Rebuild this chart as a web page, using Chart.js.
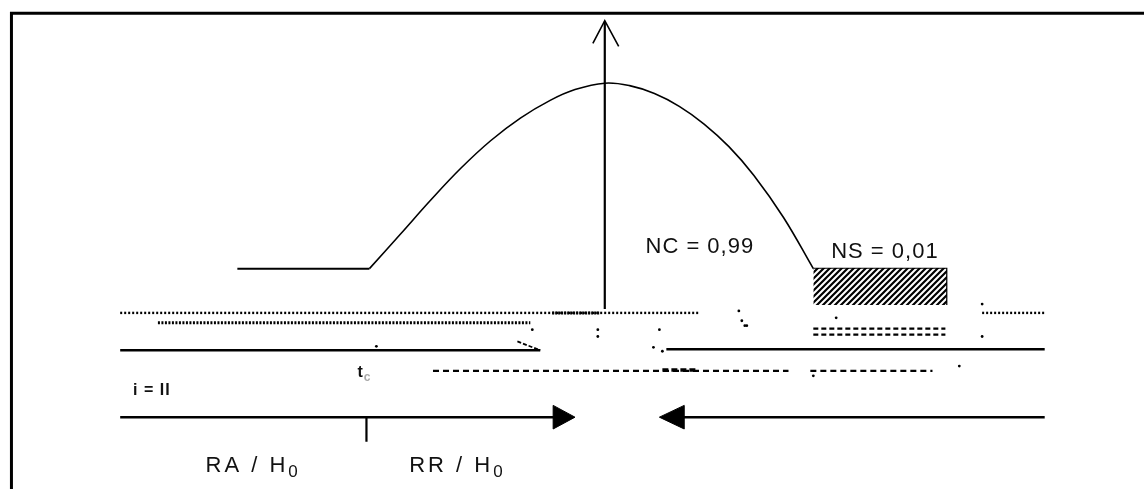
<!DOCTYPE html>
<html>
<head>
<meta charset="utf-8">
<script src="https://cdn.jsdelivr.net/npm/chart.js@4.4.1/dist/chart.umd.min.js"></script>
<style>
  html, body { margin: 0; padding: 0; background: #fff; }
  #wrap { width: 1148px; height: 493px; }
</style>
</head>
<body>
<div id="wrap"><canvas id="diagram"></canvas></div>
<script>
// drawing units = the 1148 x 493 sheet, y going down

// frame of the figure
const frameX = [7.5, 7.5, 1148];
const frameY = [493, 9.5, 9.5];

// density curve (flat tail, then the bell)
const tailX = [235, 368];
const tailY = [269, 269];
const bellX = [368, 400, 430, 460, 490, 520, 550, 575, 605, 630, 655, 680, 705, 730, 755, 785, 815];
const bellY = [269, 233, 199, 167, 139, 116, 98, 87, 80.5, 83, 91, 104, 122, 145, 174, 217, 269];

// vertical axis with its arrow tip
const axisX = [605, 605];
const axisY = [310, 18];
const tipX = [593, 605, 619];
const tipY = [40, 17, 43];

// NS region (hatched)
const nsX = [815, 949];
const nsTop = [269, 269];
const nsBottom = [306, 306];
const nsEdgeX = [815, 949, 949];
const nsEdgeY = [269, 269, 306];

// scanned guide lines
const dot1X = [117, 700], dot1Y = [314, 314];
const dot1bX = [552, 600], dot1bY = [314, 314];
const dot2X = [155, 530], dot2Y = [324, 324];
const dot3X = [985, 1048], dot3Y = [314, 314];
const solidLX = [117, 540], solidLY = [352, 352];
const slashX = [517, 540], slashY = [343, 352];
const solidRX = [667, 1048], solidRY = [351, 351];
const dashNS1X = [815, 948], dashNS1Y = [330, 330];
const dashNS2X = [815, 948], dashNS2Y = [336, 336];
const dashB1X = [432, 790], dashB1Y = [373, 373];
const dashB1bX = [663, 697], dashB1bY = [372, 372];
const dashB2X = [812, 935], dashB2Y = [373, 373];
const specksX = [740, 743, 746, 660, 654, 663, 598, 598, 375, 532, 985, 985, 962, 815, 838, 748];
const specksY = [312, 322, 327, 331, 349, 353, 331, 338, 348, 331, 305, 338, 368, 378, 319, 327];

// decision arrows
const arrowRX = [117, 556], arrowRY = [420, 420];
const headRX = [553, 575, 553, 553], headRY = [408, 420, 432, 408];
const arrowLX = [683, 1048], arrowLY = [420, 420];
const headLX = [685, 660, 685, 685], headLY = [408, 420, 432, 408];
const tickX = [365, 365], tickY = [420, 445];

// texts
const notes = [
    { text: 'NC = 0,99', x: 646, y: 247 },
    { text: 'NS = 0,01', x: 833, y: 252 },
    { text: 'RA / H', sub: '0', x: 203, y: 470 },
    { text: 'RR / H', sub: '0', x: 408, y: 470 },
    { text: 'i = II', x: 130, y: 393, small: true },
    { text: 't', sub: 'c', x: 356, y: 375, small: true }
];

function pts(xs, ys) {
    return xs.map((x, i) => ({ x: x, y: ys[i] }));
}

function hatch() {
    const c = document.createElement('canvas');
    c.width = 6; c.height = 6;
    const g = c.getContext('2d');
    g.fillStyle = '#fff';
    g.fillRect(0, 0, 6, 6);
    g.strokeStyle = '#000';
    g.lineWidth = 2.2;
    g.beginPath();
    g.moveTo(-1, 7); g.lineTo(7, -1);
    g.moveTo(-4, 4); g.lineTo(4, -4);
    g.moveTo(2, 10); g.lineTo(10, 2);
    g.stroke();
    return g.createPattern(c, 'repeat');
}

function line(xs, ys, width, dash, extra) {
    return Object.assign({
        data: pts(xs, ys),
        showLine: true,
        borderColor: '#000',
        borderWidth: width,
        borderDash: dash || [],
        pointRadius: 0,
        fill: false,
        clip: false
    }, extra || {});
}

const notesPlugin = {
    id: 'notes',
    afterDatasetsDraw(chart) {
        const ctx = chart.ctx;
        const sx = chart.scales.x, sy = chart.scales.y;
        ctx.save();
        ctx.textBaseline = 'middle';
        notes.forEach(n => {
            const px = sx.getPixelForValue(n.x);
            const py = sy.getPixelForValue(n.y);
            ctx.font = n.small ? 'bold 16px "Liberation Sans", Arial, sans-serif' : '22px "Liberation Sans", Arial, sans-serif';
            ctx.letterSpacing = n.sub && !n.small ? '3px' : '1px';
            ctx.fillStyle = '#111';
            ctx.fillText(n.text, px, py);
            if (n.sub) {
                const w = ctx.measureText(n.text).width;
                ctx.font = n.small ? 'bold 12px "Liberation Sans", Arial, sans-serif' : '17px "Liberation Sans", Arial, sans-serif';
                ctx.fillStyle = n.small ? '#aaa' : '#111';
                ctx.fillText(n.sub, px + w, py + (n.small ? 5 : 6));
            }
        });
        ctx.restore();
    }
};

const ctx = document.getElementById('diagram').getContext('2d');

const diagram = new Chart(ctx, {
    type: 'scatter',
    data: {
        datasets: [
            line(frameX, frameY, 3),
            // hatched box: top edge filled down to the bottom edge
            line(nsX, nsTop, 0, null, { fill: '+1', backgroundColor: hatch(), borderWidth: 0 }),
            line(nsX, nsBottom, 0),
            line(nsEdgeX, nsEdgeY, 2),
            line(tailX, tailY, 2),
            line(bellX, bellY, 1.6, null, { tension: 0.4 }),
            line(axisX, axisY, 2.2),
            line(tipX, tipY, 1.6),
            line(dot1X, dot1Y, 2.4, [2, 2]),
            line(dot1bX, dot1bY, 3, [2, 1]),
            line(dot2X, dot2Y, 2.8, [2, 1.5]),
            line(dot3X, dot3Y, 2.4, [2, 2]),
            line(solidLX, solidLY, 2.4),
            line(slashX, slashY, 1.8, [4, 2]),
            line(solidRX, solidRY, 2.4),
            line(dashNS1X, dashNS1Y, 2.2, [5, 3]),
            line(dashNS2X, dashNS2Y, 2.2, [5, 3]),
            line(dashB1X, dashB1Y, 2.2, [6, 4]),
            line(dashB1bX, dashB1bY, 3.5, [6, 3]),
            line(dashB2X, dashB2Y, 2.2, [6, 4]),
            {
                data: pts(specksX, specksY),
                pointRadius: 1.4,
                pointBackgroundColor: '#000',
                pointBorderWidth: 0,
                clip: false
            },
            line(arrowRX, arrowRY, 2.4),
            line(headRX, headRY, 1, null, { fill: 'shape', backgroundColor: '#000' }),
            line(arrowLX, arrowLY, 2.4),
            line(headLX, headLY, 1, null, { fill: 'shape', backgroundColor: '#000' }),
            line(tickX, tickY, 2.2)
        ]
    },
    options: {
        responsive: true,
        maintainAspectRatio: false,
        animation: false,
        layout: { padding: 0 },
        scales: {
            x: { type: 'linear', min: 0, max: 1148, display: false },
            y: { type: 'linear', min: 0, max: 493, reverse: true, display: false }
        },
        plugins: {
            legend: { display: false },
            tooltip: { enabled: false }
        }
    },
    plugins: [notesPlugin]
});
</script>
</body>
</html>
